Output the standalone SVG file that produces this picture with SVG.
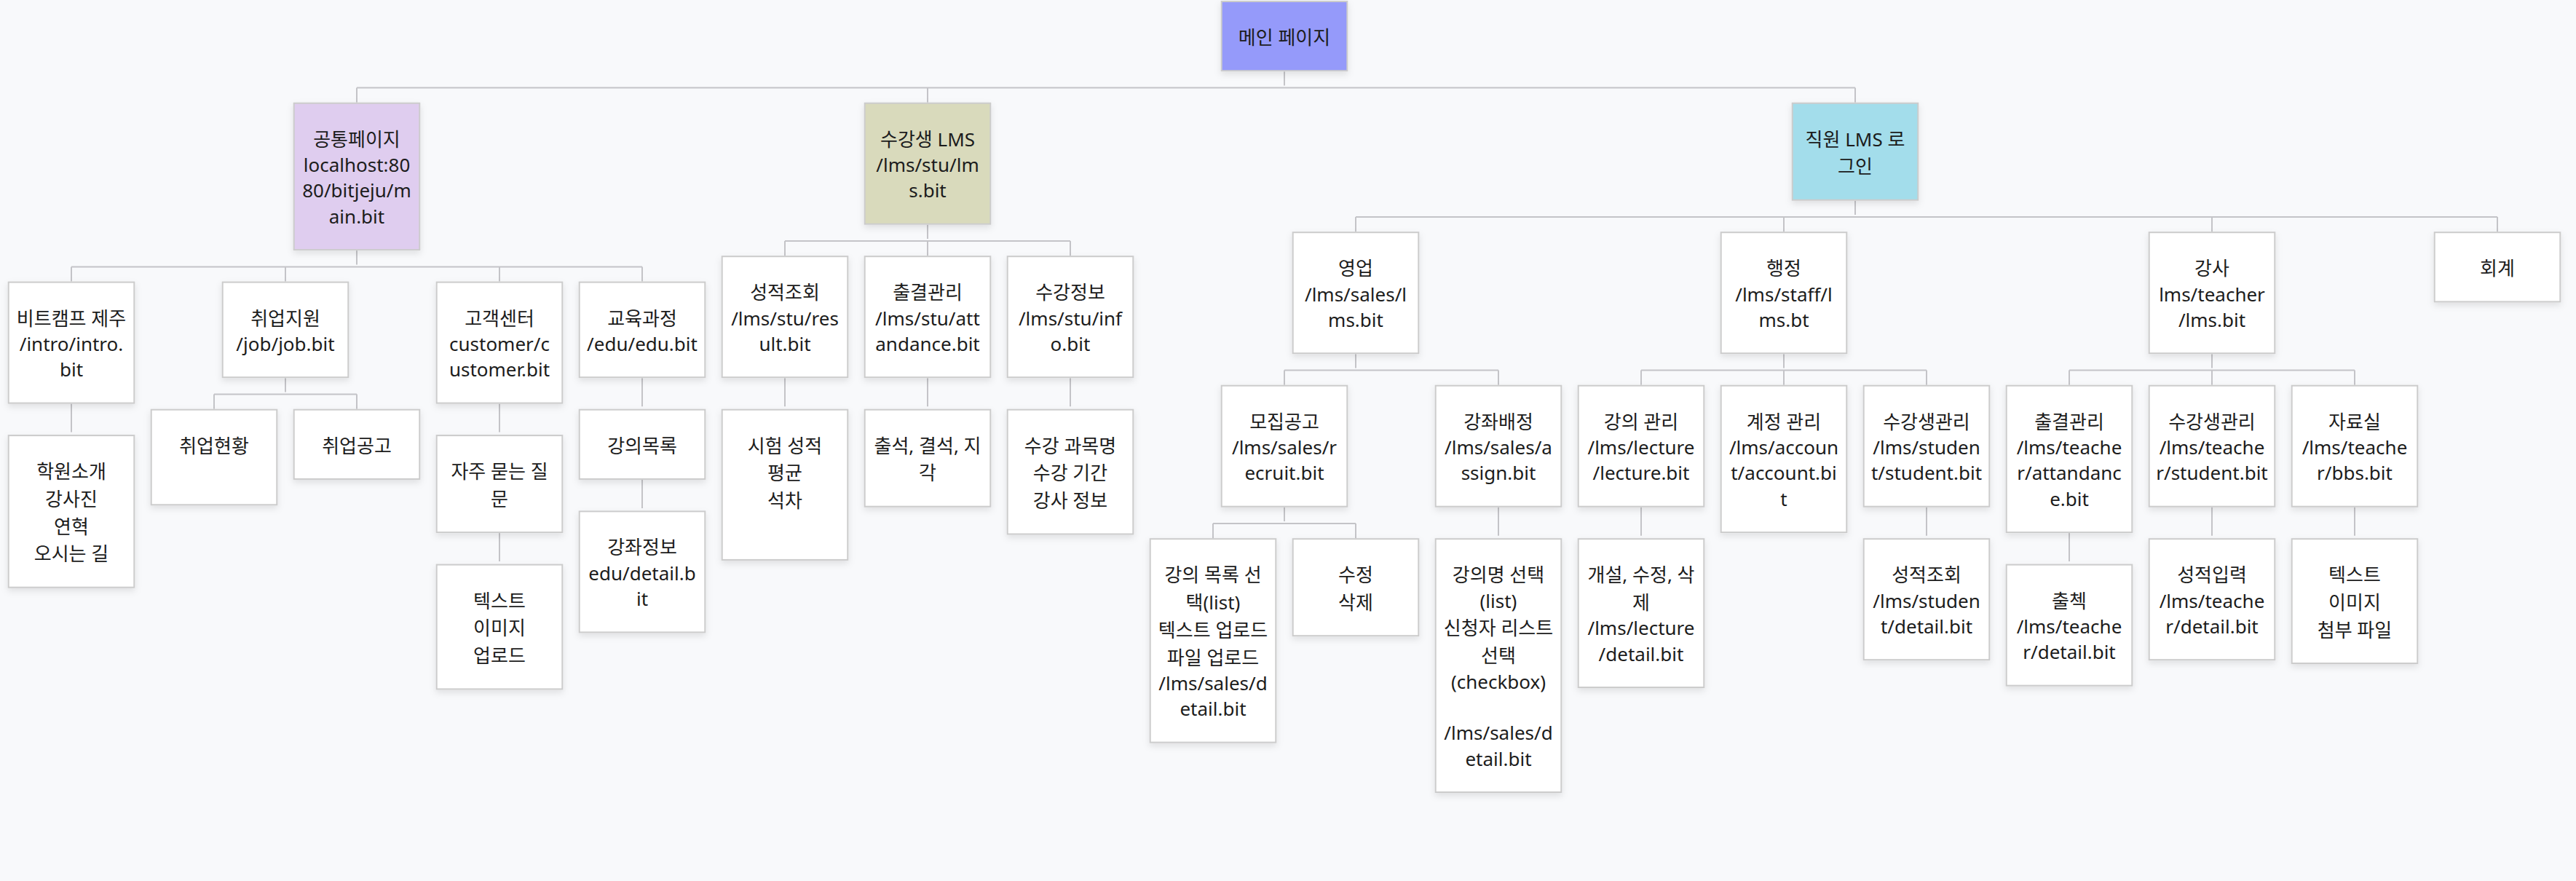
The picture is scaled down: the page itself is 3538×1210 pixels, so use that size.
<svg xmlns="http://www.w3.org/2000/svg" width="3538" height="1210" viewBox="0 0 3538 1210">
<defs>
<filter id="sh" x="-20%" y="-20%" width="140%" height="150%"><feDropShadow dx="0" dy="4" stdDeviation="5" flood-color="#000" flood-opacity="0.1"/></filter>
<style>
.bg{fill:#f8f9fb}
.n{fill:#ffffff;stroke:#cccccc;stroke-width:2;filter:url(#sh)}
.t{font-family:"Noto Sans","Noto Sans CJK KR",sans-serif;font-size:26px;fill:#1c1c1c;text-anchor:middle}
.c{fill:none;stroke:#c4c4c8;stroke-width:2}
</style>
</defs>
<rect class="bg" x="0" y="0" width="3538" height="1210"/>
<g id="connectors">
<path class="c" d="M1764 98.2V117.5M490 120.5H2548M490 120.5V140.7M1274 120.5V140.7M2548 120.5V140.7"/>
<path class="c" d="M490 344.1V363.4M98 366.4H882M98 366.4V386.6M392 366.4V386.6M686 366.4V386.6M882 366.4V386.6"/>
<path class="c" d="M98 554.6V593.6M392 519.2V538.5M294 541.5H490M294 541.5V561.7M490 541.5V561.7M686 554.6V593.6M686 732.1V771.1M882 519.2V558.2M882 658.9V697.9"/>
<path class="c" d="M1274 308.7V328M1078 331H1470M1078 331V351.2M1274 331V351.2M1470 331V351.2M1078 519.2V558.2M1274 519.2V558.2M1470 519.2V558.2"/>
<path class="c" d="M2548 275.7V295M1862 298H3430M1862 298V318.2M2450 298V318.2M3038 298V318.2M3430 298V318.2"/>
<path class="c" d="M1862 486.2V505.5M1764 508.5H2058M1764 508.5V528.7M2058 508.5V528.7M1764 696.7V716M1666 719H1862M1666 719V739.2M1862 719V739.2M2058 696.7V735.7"/>
<path class="c" d="M2450 486.2V505.5M2254 508.5H2646M2254 508.5V528.7M2450 508.5V528.7M2646 508.5V528.7M2254 696.7V735.7M2646 696.7V735.7"/>
<path class="c" d="M3038 486.2V505.5M2842 508.5H3234M2842 508.5V528.7M3038 508.5V528.7M3234 508.5V528.7M2842 732.1V771.1M3038 696.7V735.7M3234 696.7V735.7"/>
</g>
<g id="main"><rect class="n" x="1677.7" y="2" width="172.6" height="95.2" style="fill:#959afa"/><text class="t"><tspan x="1764" y="60.9">메인 페이지</tspan></text></g>
<g id="common"><rect class="n" x="403.7" y="141.7" width="172.6" height="201.4" style="fill:#dfcdef"/><text class="t"><tspan x="490" y="200.6">공통페이지</tspan><tspan x="490" y="236">localhost:80</tspan><tspan x="490" y="271.4">80/bitjeju/m</tspan><tspan x="490" y="306.8">ain.bit</tspan></text></g>
<g id="stu-lms"><rect class="n" x="1187.7" y="141.7" width="172.6" height="166" style="fill:#d9dabc"/><text class="t"><tspan x="1274" y="200.6">수강생 LMS</tspan><tspan x="1274" y="236">/lms/stu/lm</tspan><tspan x="1274" y="271.4">s.bit</tspan></text></g>
<g id="staff-lms"><rect class="n" x="2461.7" y="141.7" width="172.6" height="133" style="fill:#a3ddeb"/><text class="t"><tspan x="2548" y="200.6">직원 LMS 로</tspan><tspan x="2548" y="238.4">그인</tspan></text></g>
<g id="bitcamp"><rect class="n" x="11.7" y="387.6" width="172.6" height="166"/><text class="t"><tspan x="98" y="446.5">비트캠프 제주</tspan><tspan x="98" y="481.9">/intro/intro.</tspan><tspan x="98" y="517.3">bit</tspan></text></g>
<g id="intro"><rect class="n" x="11.7" y="598.1" width="172.6" height="208.6"/><text class="t"><tspan x="98" y="657">학원소개</tspan><tspan x="98" y="694.8">강사진</tspan><tspan x="98" y="732.6">연혁</tspan><tspan x="98" y="770.4">오시는 길</tspan></text></g>
<g id="job"><rect class="n" x="305.7" y="387.6" width="172.6" height="130.6"/><text class="t"><tspan x="392" y="446.5">취업지원</tspan><tspan x="392" y="481.9">/job/job.bit</tspan></text></g>
<g id="job-status"><rect class="n" x="207.7" y="562.7" width="172.6" height="130.6"/><text class="t"><tspan x="294" y="621.6">취업현황</tspan></text></g>
<g id="job-notice"><rect class="n" x="403.7" y="562.7" width="172.6" height="95.2"/><text class="t"><tspan x="490" y="621.6">취업공고</tspan></text></g>
<g id="customer"><rect class="n" x="599.7" y="387.6" width="172.6" height="166"/><text class="t"><tspan x="686" y="446.5">고객센터</tspan><tspan x="686" y="481.9">customer/c</tspan><tspan x="686" y="517.3">ustomer.bit</tspan></text></g>
<g id="faq"><rect class="n" x="599.7" y="598.1" width="172.6" height="133"/><text class="t"><tspan x="686" y="657">자주 묻는 질</tspan><tspan x="686" y="694.8">문</tspan></text></g>
<g id="faq-content"><rect class="n" x="599.7" y="775.6" width="172.6" height="170.8"/><text class="t"><tspan x="686" y="834.5">텍스트</tspan><tspan x="686" y="872.3">이미지</tspan><tspan x="686" y="910.1">업로드</tspan></text></g>
<g id="edu"><rect class="n" x="795.7" y="387.6" width="172.6" height="130.6"/><text class="t"><tspan x="882" y="446.5">교육과정</tspan><tspan x="882" y="481.9">/edu/edu.bit</tspan></text></g>
<g id="edu-list"><rect class="n" x="795.7" y="562.7" width="172.6" height="95.2"/><text class="t"><tspan x="882" y="621.6">강의목록</tspan></text></g>
<g id="edu-detail"><rect class="n" x="795.7" y="702.4" width="172.6" height="166"/><text class="t"><tspan x="882" y="761.3">강좌정보</tspan><tspan x="882" y="796.7">edu/detail.b</tspan><tspan x="882" y="832.1">it</tspan></text></g>
<g id="stu-result"><rect class="n" x="991.7" y="352.2" width="172.6" height="166"/><text class="t"><tspan x="1078" y="411.1">성적조회</tspan><tspan x="1078" y="446.5">/lms/stu/res</tspan><tspan x="1078" y="481.9">ult.bit</tspan></text></g>
<g id="stu-result-detail"><rect class="n" x="991.7" y="562.7" width="172.6" height="206.2"/><text class="t"><tspan x="1078" y="621.6">시험 성적</tspan><tspan x="1078" y="659.4">평균</tspan><tspan x="1078" y="697.2">석차</tspan></text></g>
<g id="stu-attend"><rect class="n" x="1187.7" y="352.2" width="172.6" height="166"/><text class="t"><tspan x="1274" y="411.1">출결관리</tspan><tspan x="1274" y="446.5">/lms/stu/att</tspan><tspan x="1274" y="481.9">andance.bit</tspan></text></g>
<g id="stu-attend-detail"><rect class="n" x="1187.7" y="562.7" width="172.6" height="133"/><text class="t"><tspan x="1274" y="621.6">출석, 결석, 지</tspan><tspan x="1274" y="659.4">각</tspan></text></g>
<g id="stu-info"><rect class="n" x="1383.7" y="352.2" width="172.6" height="166"/><text class="t"><tspan x="1470" y="411.1">수강정보</tspan><tspan x="1470" y="446.5">/lms/stu/inf</tspan><tspan x="1470" y="481.9">o.bit</tspan></text></g>
<g id="stu-info-detail"><rect class="n" x="1383.7" y="562.7" width="172.6" height="170.8"/><text class="t"><tspan x="1470" y="621.6">수강 과목명</tspan><tspan x="1470" y="659.4">수강 기간</tspan><tspan x="1470" y="697.2">강사 정보</tspan></text></g>
<g id="sales"><rect class="n" x="1775.7" y="319.2" width="172.6" height="166"/><text class="t"><tspan x="1862" y="378.1">영업</tspan><tspan x="1862" y="413.5">/lms/sales/l</tspan><tspan x="1862" y="448.9">ms.bit</tspan></text></g>
<g id="recruit"><rect class="n" x="1677.7" y="529.7" width="172.6" height="166"/><text class="t"><tspan x="1764" y="588.6">모집공고</tspan><tspan x="1764" y="624">/lms/sales/r</tspan><tspan x="1764" y="659.4">ecruit.bit</tspan></text></g>
<g id="recruit-detail"><rect class="n" x="1579.7" y="740.2" width="172.6" height="279.4"/><text class="t"><tspan x="1666" y="799.1">강의 목록 선</tspan><tspan x="1666" y="836.9">택(list)</tspan><tspan x="1666" y="874.7">텍스트 업로드</tspan><tspan x="1666" y="912.5">파일 업로드</tspan><tspan x="1666" y="947.9">/lms/sales/d</tspan><tspan x="1666" y="983.3">etail.bit</tspan></text></g>
<g id="recruit-edit"><rect class="n" x="1775.7" y="740.2" width="172.6" height="133"/><text class="t"><tspan x="1862" y="799.1">수정</tspan><tspan x="1862" y="836.9">삭제</tspan></text></g>
<g id="assign"><rect class="n" x="1971.7" y="529.7" width="172.6" height="166"/><text class="t"><tspan x="2058" y="588.6">강좌배정</tspan><tspan x="2058" y="624">/lms/sales/a</tspan><tspan x="2058" y="659.4">ssign.bit</tspan></text></g>
<g id="assign-detail"><rect class="n" x="1971.7" y="740.2" width="172.6" height="347.8"/><text class="t"><tspan x="2058" y="799.1">강의명 선택</tspan><tspan x="2058" y="834.5">(list)</tspan><tspan x="2058" y="872.3">신청자 리스트</tspan><tspan x="2058" y="910.1">선택</tspan><tspan x="2058" y="945.5">(checkbox)</tspan><tspan x="2058" y="1016.3">/lms/sales/d</tspan><tspan x="2058" y="1051.7">etail.bit</tspan></text></g>
<g id="staff"><rect class="n" x="2363.7" y="319.2" width="172.6" height="166"/><text class="t"><tspan x="2450" y="378.1">행정</tspan><tspan x="2450" y="413.5">/lms/staff/l</tspan><tspan x="2450" y="448.9">ms.bt</tspan></text></g>
<g id="lecture"><rect class="n" x="2167.7" y="529.7" width="172.6" height="166"/><text class="t"><tspan x="2254" y="588.6">강의 관리</tspan><tspan x="2254" y="624">/lms/lecture</tspan><tspan x="2254" y="659.4">/lecture.bit</tspan></text></g>
<g id="lecture-detail"><rect class="n" x="2167.7" y="740.2" width="172.6" height="203.8"/><text class="t"><tspan x="2254" y="799.1">개설, 수정, 삭</tspan><tspan x="2254" y="836.9">제</tspan><tspan x="2254" y="872.3">/lms/lecture</tspan><tspan x="2254" y="907.7">/detail.bit</tspan></text></g>
<g id="account"><rect class="n" x="2363.7" y="529.7" width="172.6" height="201.4"/><text class="t"><tspan x="2450" y="588.6">계정 관리</tspan><tspan x="2450" y="624">/lms/accoun</tspan><tspan x="2450" y="659.4">t/account.bi</tspan><tspan x="2450" y="694.8">t</tspan></text></g>
<g id="student"><rect class="n" x="2559.7" y="529.7" width="172.6" height="166"/><text class="t"><tspan x="2646" y="588.6">수강생관리</tspan><tspan x="2646" y="624">/lms/studen</tspan><tspan x="2646" y="659.4">t/student.bit</tspan></text></g>
<g id="student-detail"><rect class="n" x="2559.7" y="740.2" width="172.6" height="166"/><text class="t"><tspan x="2646" y="799.1">성적조회</tspan><tspan x="2646" y="834.5">/lms/studen</tspan><tspan x="2646" y="869.9">t/detail.bit</tspan></text></g>
<g id="teacher"><rect class="n" x="2951.7" y="319.2" width="172.6" height="166"/><text class="t"><tspan x="3038" y="378.1">강사</tspan><tspan x="3038" y="413.5">lms/teacher</tspan><tspan x="3038" y="448.9">/lms.bit</tspan></text></g>
<g id="t-attend"><rect class="n" x="2755.7" y="529.7" width="172.6" height="201.4"/><text class="t"><tspan x="2842" y="588.6">출결관리</tspan><tspan x="2842" y="624">/lms/teache</tspan><tspan x="2842" y="659.4">r/attandanc</tspan><tspan x="2842" y="694.8">e.bit</tspan></text></g>
<g id="t-attend-detail"><rect class="n" x="2755.7" y="775.6" width="172.6" height="166"/><text class="t"><tspan x="2842" y="834.5">출첵</tspan><tspan x="2842" y="869.9">/lms/teache</tspan><tspan x="2842" y="905.3">r/detail.bit</tspan></text></g>
<g id="t-student"><rect class="n" x="2951.7" y="529.7" width="172.6" height="166"/><text class="t"><tspan x="3038" y="588.6">수강생관리</tspan><tspan x="3038" y="624">/lms/teache</tspan><tspan x="3038" y="659.4">r/student.bit</tspan></text></g>
<g id="t-student-detail"><rect class="n" x="2951.7" y="740.2" width="172.6" height="166"/><text class="t"><tspan x="3038" y="799.1">성적입력</tspan><tspan x="3038" y="834.5">/lms/teache</tspan><tspan x="3038" y="869.9">r/detail.bit</tspan></text></g>
<g id="t-bbs"><rect class="n" x="3147.7" y="529.7" width="172.6" height="166"/><text class="t"><tspan x="3234" y="588.6">자료실</tspan><tspan x="3234" y="624">/lms/teache</tspan><tspan x="3234" y="659.4">r/bbs.bit</tspan></text></g>
<g id="t-bbs-detail"><rect class="n" x="3147.7" y="740.2" width="172.6" height="170.8"/><text class="t"><tspan x="3234" y="799.1">텍스트</tspan><tspan x="3234" y="836.9">이미지</tspan><tspan x="3234" y="874.7">첨부 파일</tspan></text></g>
<g id="accounting"><rect class="n" x="3343.7" y="319.2" width="172.6" height="95.2"/><text class="t"><tspan x="3430" y="378.1">회계</tspan></text></g>
</svg>
